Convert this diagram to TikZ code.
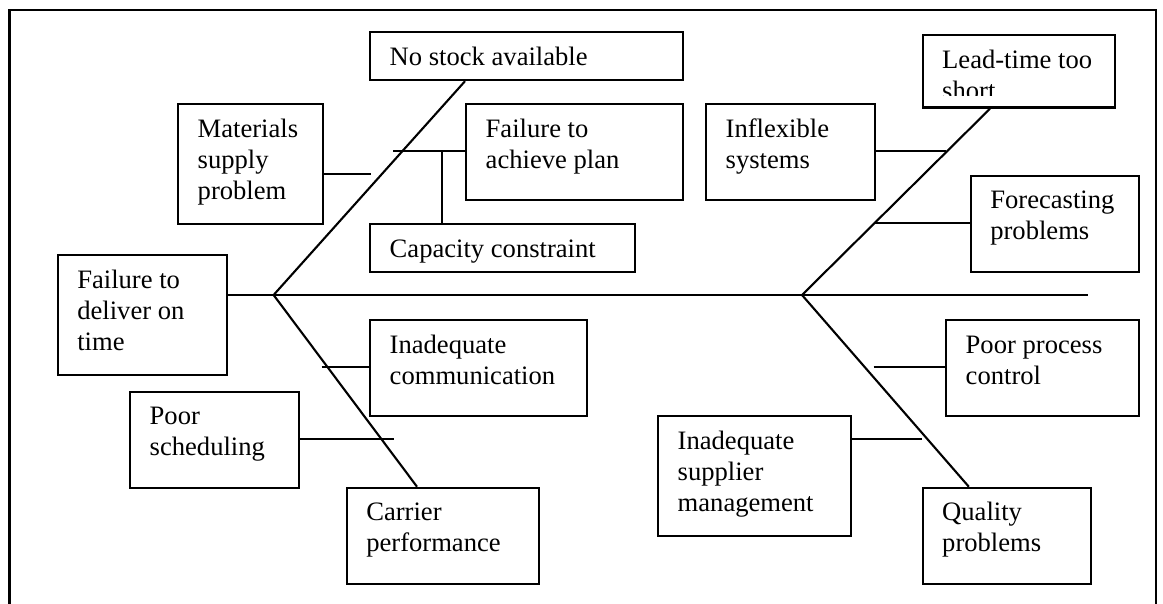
\documentclass[tikz,border=0pt]{standalone}
\usepackage{fontspec}
\setmainfont{Liberation Serif}
% a cause box: name, left, top, width, height, visible text height, text
\newcommand\causebox[7]{%
  \node[boxsty, minimum width=#4pt, minimum height=#5pt, anchor=north west] (#1) at (#2,#3) {};
  \begin{scope}
    \clip (#2,#3) rectangle ++(#4,#6);
    \node[txtsty, anchor=north west] (#1-text) at (#2+20.5,#3) {\rule{0pt}{34pt}#7};
  \end{scope}
}
\begin{document}
\begin{tikzpicture}[x=1pt,y=-1pt,
  boxsty/.style={draw, rectangle, inner sep=0pt, line width=2.2pt},
  txtsty/.style={inner sep=0pt, align=left, font=\fontsize{26.6}{31}\selectfont},
  bone/.style={line width=2.1pt}]
\useasboundingbox (0,0) rectangle (1163,604);
% open outer frame
\draw[line width=2.2pt] (9.5,604) -- (9.5,10) -- (1156,10) -- (1156,604);

% cause boxes
\causebox{nostock}{369}{31}{313}{48}{48}{No stock available}
\causebox{materials}{177}{103}{144.5}{120}{114}{Materials\\supply\\problem}
\causebox{achieve}{465}{103}{217}{96}{90}{Failure to\\achieve plan}
\causebox{capacity}{369}{223}{264.5}{48}{42}{Capacity constraint}
\causebox{inflexible}{705}{103}{168.5}{96}{90}{Inflexible\\systems}
\causebox{leadtime}{921.5}{34}{192.5}{72.5}{62}{Lead-time too\\short}
\causebox{forecast}{969.6}{174.7}{168}{96}{90}{Forecasting\\problems}
\causebox{effect}{56.6}{254}{169.2}{120}{114}{Failure to\\deliver on\\time}
\causebox{communication}{369}{319}{216.5}{96}{90}{Inadequate\\communication}
\causebox{scheduling}{129}{390.7}{168.7}{96.3}{90}{Poor\\scheduling}
\causebox{carrier}{345.6}{486.7}{192}{96.3}{90}{Carrier\\performance}
\causebox{process}{945}{319}{193}{96}{90}{Poor process\\control}
\causebox{supplier}{657}{415}{193}{120}{114}{Inadequate\\supplier\\management}
\causebox{quality}{921.5}{486.7}{168.5}{96.3}{90}{Quality\\problems}

% spine and junctions
\coordinate (jl) at (273.6,295);
\coordinate (jr) at (802,295);
\coordinate (tail) at (1088,295);
\draw[bone] (effect.east |- jl) -- (tail);

% main bones
\draw[bone] (jl) -- ([xshift=96pt]nostock.south west);
\draw[bone] (jl) -- ([xshift=71.4pt]carrier.north west);
\draw[bone] (jr) -- ([xshift=68.5pt]leadtime.south west);
\draw[bone] (jr) -- ([xshift=47.3pt]quality.north west);

% free ends of the sub-cause lines
\coordinate (ms) at (370.5,174);
\coordinate (fa) at (393,151);
\coordinate (ca) at (442,151);
\coordinate (is) at (945.8,151);
\coordinate (fs) at (874.6,223);
\coordinate (ic) at (321.5,367);
\coordinate (ps) at (394,439);
\coordinate (pp) at (873.5,367);
\coordinate (su) at (922,439);

% sub-cause lines
\draw[bone] (materials.east |- ms) -- (ms);
\draw[bone] (fa) -- (achieve.west |- fa);
\draw[bone] (ca) -- (ca |- capacity.north);
\draw[bone] (inflexible.east |- is) -- (is);
\draw[bone] (fs) -- (forecast.west |- fs);
\draw[bone] (ic) -- (communication.west |- ic);
\draw[bone] (scheduling.east |- ps) -- (ps);
\draw[bone] (pp) -- (process.west |- pp);
\draw[bone] (supplier.east |- su) -- (su);
\end{tikzpicture}
\end{document}
